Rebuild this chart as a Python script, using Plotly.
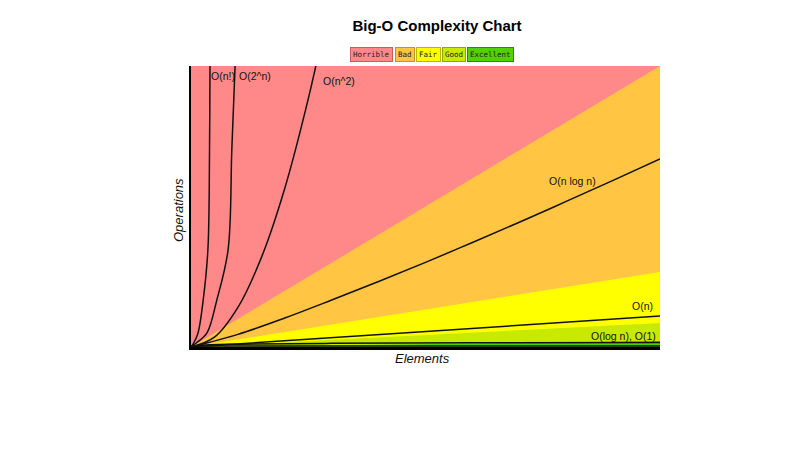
import plotly.graph_objects as go

# values, in units of the plot box (0-100 on both axes)
region_names = ["Horrible", "Bad", "Fair", "Good", "Excellent"]
region_colors = ["#FF8989", "#FFC543", "#FFFF00", "#C8EA00", "#53D000"]
region_borders = ["#C85C5C", "#C8902A", "#B8B800", "#8FA800", "#2F8A00"]
region_top_right = [100, 100, 26.7, 8.5, 2.1]   # height of each band at the right edge

fact_x = [0, 0.6, 1.5, 2.6, 3.6, 3.95, 4.05, 4.2]
fact_y = [0, 1.5, 5.0, 16.7, 34.5, 70, 100, 140]

exp_x = [0, 1.2, 3.4, 5.5, 7.9, 8.7, 9.4, 9.8]
exp_y = [0, 1.5, 5.0, 16.7, 34.5, 70, 100, 125]

sq_x = [0, 5, 10, 15, 20, 25, 28]
sq_y = [0, 3.5, 14.1, 31.8, 56.5, 88.3, 110.7]

nlogn_x = [0, 10, 20, 30, 40, 50, 60, 70, 80, 90, 100]
nlogn_y = [0, 4.5, 10.3, 16.7, 23.3, 30.1, 37.2, 44.4, 51.8, 59.3, 66.9]

lin_x = [0, 100]
lin_y = [0, 11.0]

logn_x = [0, 2, 10, 30, 60, 100]
logn_y = [0, 0.6, 1.0, 1.3, 1.5, 1.6]

const_x = [0, 100]
const_y = [0.4, 0.4]

curve_labels = ["O(n!)", "O(2^n)", "O(n^2)", "O(n log n)", "O(n)", "O(log n), O(1)"]

# the page body adds 8px, so the plot box starts at 183,58 in figure pixels
L, T, W, H = 183, 58, 469, 281

fig = go.Figure()

# colored bands, drawn from the widest down
for name, color, top in zip(region_names, region_colors, region_top_right):
    if name == "Horrible":
        xs, ys = [0, 0, 100, 100], [0, 100, 100, 0]
    else:
        xs, ys = [0, 100, 100], [0, top, 0]
    fig.add_trace(go.Scatter(x=xs, y=ys, fill='toself', fillcolor=color, mode='none',
                             hoverinfo='skip', showlegend=False))

curves = [(fact_x, fact_y, 'spline'), (exp_x, exp_y, 'spline'), (sq_x, sq_y, 'spline'),
          (nlogn_x, nlogn_y, 'spline'), (lin_x, lin_y, 'linear'),
          (logn_x, logn_y, 'spline'), (const_x, const_y, 'linear')]
for xs, ys, shape in curves:
    fig.add_trace(go.Scatter(x=xs, y=ys, mode='lines', line=dict(color='#111111', width=1.5, shape=shape),
                             hoverinfo='skip', showlegend=False))

label_font = dict(family='Liberation Sans, Arial', size=10.5, color='#111111')
label_pos = [(3.9, 96.5, 'left'), (9.9, 96.5, 'left'), (27.8, 94.5, 'left'),
             (86.8, 59.1, 'right'), (99.0, 14.5, 'right'), (99.6, 4.0, 'right')]
for text, (x, y, anchor) in zip(curve_labels, label_pos):
    fig.add_annotation(x=x, y=y, text=text, showarrow=False, xanchor=anchor, yanchor='middle',
                       font=label_font)

# legend chips above the plot (reference pixel centres)
chip_x = [371.5, 404.5, 428, 453.5, 490]
for name, color, border, cx in zip(region_names, region_colors, region_borders, chip_x):
    fig.add_annotation(xref='paper', yref='paper', x=(cx - 191) / W, y=1 + (66 - 54.5) / H,
                       text=name, showarrow=False, xanchor='center', yanchor='middle',
                       bgcolor=color, bordercolor=border, borderwidth=1, borderpad=2,
                       font=dict(family='DejaVu Sans Mono, Liberation Mono, monospace', size=7.5, color='#222222'))

axis_font = dict(family='Liberation Sans, Arial', size=13, color='#111111', style='italic')
fig.add_annotation(xref='paper', yref='paper', x=(422 - 191) / W, y=-(358 - 347) / H,
                   text='Elements', showarrow=False, xanchor='center', yanchor='middle', font=axis_font)
fig.add_annotation(xref='paper', yref='paper', x=-(191 - 178) / W, y=(347 - 210) / H,
                   text='Operations', showarrow=False, xanchor='center', yanchor='middle',
                   textangle=-90, font=axis_font)

fig.update_layout(
    width=800, height=450,
    margin=dict(l=L, r=800 - L - W, t=T, b=450 - T - H),
    paper_bgcolor='white', plot_bgcolor='white',
    title=dict(text='<b>Big-O Complexity Chart</b>', xref='container', yref='container',
               x=429 / 800, y=1 - 18 / 450, xanchor='center', yanchor='middle',
               font=dict(family='Liberation Sans, Arial', size=15, color='#000000')),
    xaxis=dict(range=[0, 100], showgrid=False, zeroline=False, showticklabels=False, ticks='',
               showline=True, linecolor='#000000', linewidth=3, fixedrange=True),
    yaxis=dict(range=[0, 100], showgrid=False, zeroline=False, showticklabels=False, ticks='',
               showline=True, linecolor='#000000', linewidth=2, fixedrange=True),
)

fig.write_html("out.html")
